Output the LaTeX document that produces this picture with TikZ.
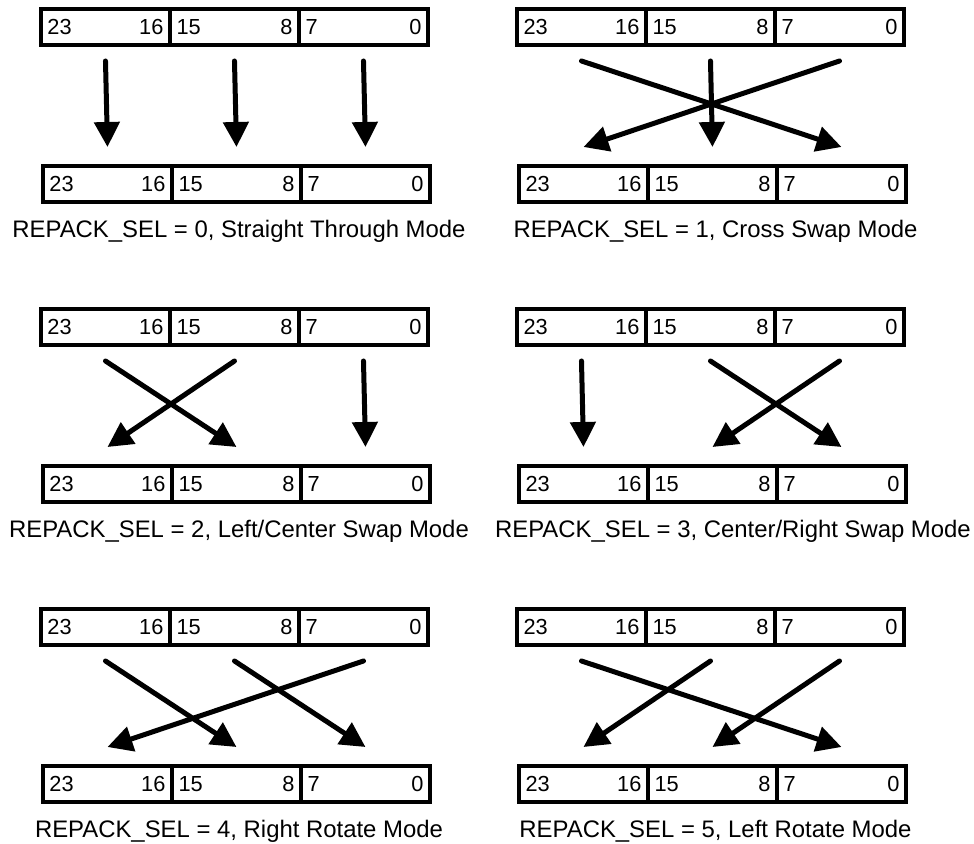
\documentclass[tikz,border=0pt]{standalone}
\usepackage{fontspec}
\setmainfont{Liberation Sans}
\usetikzlibrary{arrows.meta}

\tikzset{
  cell/.style={draw, line width=0.07cm, outer sep=0pt, inner xsep=0.13cm, inner ysep=0pt,
    text width=2.32cm, minimum height=0.72cm, anchor=north west,
    font=\fontsize{12.4}{14}\selectfont},
  move/.style={line width=0.1cm, line cap=round, -{Triangle[length=0.5cm,width=0.5cm]}},
  caption/.style={anchor=base, font=\fontsize{13.6}{16}\selectfont}
}

\begin{document}
\begin{tikzpicture}[x=0.02cm,y=-0.02cm]
  \useasboundingbox (0,0) rectangle (974,844);
  % registers, one pair per mode
  \foreach \k/\ox/\oy in {0/41/9, 1/517/9, 2/41/309, 3/517/309, 4/41/609, 5/517/609} {
    \foreach \i/\hi/\lo in {0/23/16, 1/15/8, 2/7/0} {
      \node[cell] (top\k\i) at ({\ox+129*\i},\oy) {\hi\hfill\lo};
      \node[cell] (bot\k\i) at ({\ox+2+129*\i},{\oy+157}) {\hi\hfill\lo};
    }
  }
  % byte moves
  \foreach \k/\a/\b/\c in {0/0/1/2, 1/2/1/0, 2/1/0/2, 3/0/2/1, 4/1/2/0, 5/2/0/1} {
    \foreach \i/\j in {0/\a, 1/\b, 2/\c}
      {\draw[move] ([yshift=-0.32cm]top\k\i.south) -- ([yshift=0.38cm]bot\k\j.north);}
  }
  \node[caption] (cap0) at ([xshift=0.05cm,yshift=-0.72cm]bot01.south) {REPACK\_SEL = 0, Straight Through Mode};
  \node[caption] (cap1) at ([xshift=0.06cm,yshift=-0.72cm]bot11.south) {REPACK\_SEL = 1, Cross Swap Mode};
  \node[caption] (cap2) at ([xshift=0.05cm,yshift=-0.72cm]bot21.south) {REPACK\_SEL = 2, Left/Center Swap Mode};
  \node[caption] (cap3) at ([xshift=0.41cm,yshift=-0.72cm]bot31.south) {REPACK\_SEL = 3, Center/Right Swap Mode};
  \node[caption] (cap4) at ([xshift=0.05cm,yshift=-0.72cm]bot41.south) {REPACK\_SEL = 4, Right Rotate Mode};
  \node[caption] (cap5) at ([xshift=0.06cm,yshift=-0.72cm]bot51.south) {REPACK\_SEL = 5, Left Rotate Mode};
\end{tikzpicture}
\end{document}
